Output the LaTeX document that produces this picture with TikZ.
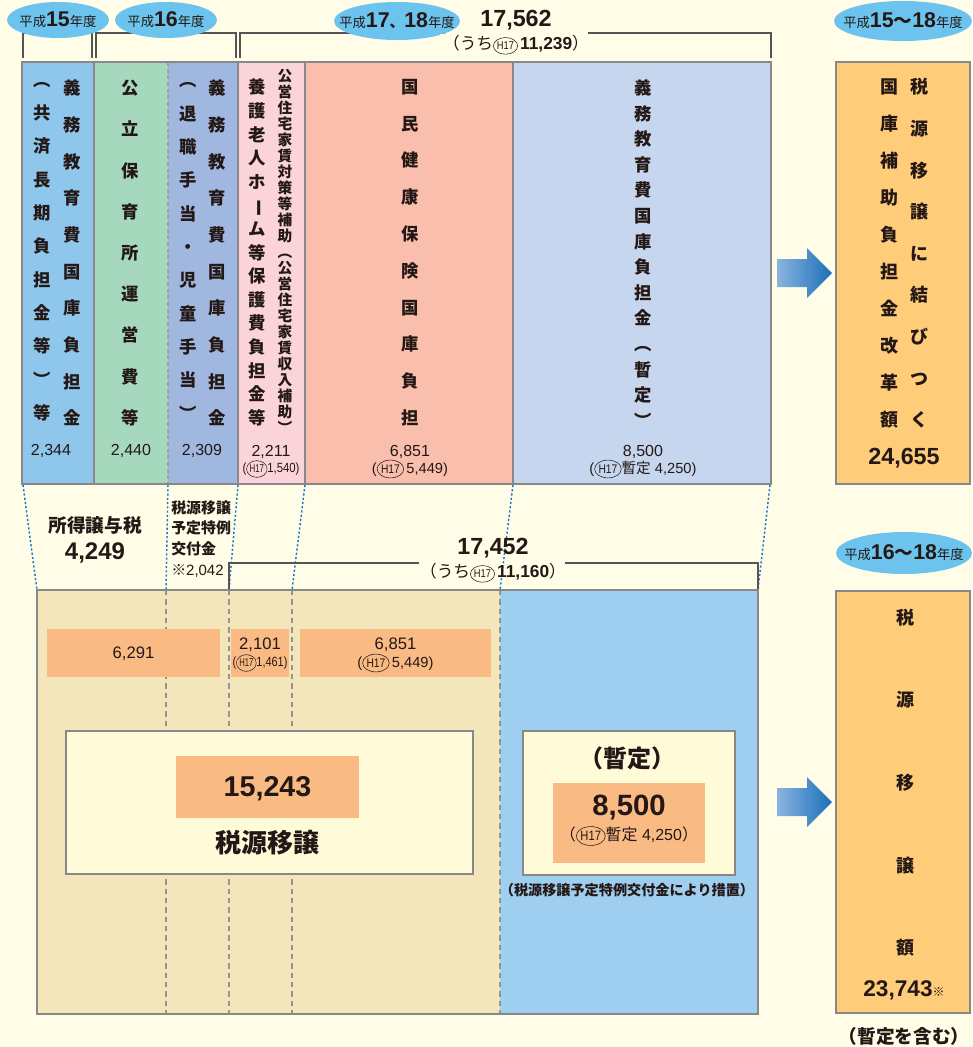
\documentclass[tikz,border=0pt]{standalone}
\usepackage{fontspec}
\setmainfont{Liberation Sans}
\newfontfamily\jp{Noto Sans CJK JP}
\usetikzlibrary{shapes.geometric}
\definecolor{bg}{HTML}{FFFDE8}
\definecolor{tx}{HTML}{231815}
\definecolor{cA}{HTML}{8EC6EC}
\definecolor{cB}{HTML}{A6D8BE}
\definecolor{cC}{HTML}{A0B8E0}
\definecolor{cD}{HTML}{FAD4DA}
\definecolor{cE}{HTML}{F9BEAC}
\definecolor{cF}{HTML}{C6D6EE}
\definecolor{org}{HTML}{FFCC7A}
\definecolor{ell}{HTML}{6CC4EE}
\definecolor{beige}{HTML}{F2E6BA}
\definecolor{lblue}{HTML}{9ECEF0}
\definecolor{obox}{HTML}{F9BA84}
\definecolor{icream}{HTML}{FFFAD8}
\definecolor{bordc}{HTML}{888888}
\definecolor{brkc}{HTML}{555555}
\definecolor{dotc}{HTML}{1E78C8}
\definecolor{arL}{HTML}{8AB4E0}
\definecolor{arR}{HTML}{1A6FB8}
\newcommand\fs[2]{\fontsize{#1}{#2}\selectfont}
\newcommand\hh{\tikz[baseline=(hx.base)]\node[draw=tx,line width=0.4pt,ellipse,inner xsep=0pt,inner ysep=1.5pt](hx){\scalebox{0.7}[0.85]{H17}};}
\newcommand\vbar{\rotatebox[origin=c]{-90}{ー}}
\tikzset{
  txt/.style={text=tx, inner sep=0pt},
  vcol/.style={txt, align=center},
  brk/.style={draw=brkc, line width=1pt},
  sep/.style={draw=bordc, line width=1.2pt},
  dsep/.style={draw=bordc!80, line width=0.8pt, dash pattern=on 3pt off 2pt},
  bord/.style={draw=bordc, line width=2pt},
  dotl/.style={draw=dotc, line width=1.1pt, dash pattern=on 1.6pt off 1.6pt},
  gdash/.style={draw=bordc!90, line width=1.1pt, dash pattern=on 4pt off 3pt},
  ellb/.style={ellipse, fill=ell, draw=none, inner sep=0pt},
  ibox/.style={draw=bordc, line width=1pt, fill=icream},
}
\begin{document}
\begin{tikzpicture}[x=0.75pt,y=-0.75pt]
\fill[bg] (0,0) rectangle (972,1047);
\useasboundingbox (0,0) rectangle (972,1047);

% ---------- top brackets ----------
\draw[brk] (23,58) -- (23,33) -- (92,33) -- (92,58);
\draw[brk] (96,58) -- (96,33) -- (236,33) -- (236,58);
\draw[brk] (240,58) -- (240,33) -- (445,33);
\draw[brk] (588,33) -- (771,33) -- (771,58);

% ---------- ellipses ----------
\node[ellb, minimum width=76.5pt, minimum height=27pt] (e15) at (58,20) {};
\node[txt] (t15) at (e15.center) {{\jp\fs{10}{12}平成}{\bfseries\fs{16}{18}15}{\jp\fs{10}{12}年度}};
\node[ellb, minimum width=76.5pt, minimum height=27pt] (e16) at (166,20) {};
\node[txt] (t16) at (e16.center) {{\jp\fs{10}{12}平成}{\bfseries\fs{16}{18}16}{\jp\fs{10}{12}年度}};
\node[ellb, minimum width=94.5pt, minimum height=28.5pt] (e1718) at (397,21) {};
\node[txt] (t1718) at (e1718.center) {{\jp\fs{10}{12}平成}{\bfseries\fs{16}{18}17}{\jp\bfseries\fs{11}{13}、}{\bfseries\fs{16}{18}18}{\jp\fs{10}{12}年度}};
\node[ellb, minimum width=103.5pt, minimum height=30pt] (e1518) at (903,21) {};
\node[txt] (t1518) at (e1518.center) {{\jp\fs{10}{12}平成}{\bfseries\fs{16}{18}15}{\jp\bfseries\fs{14}{16}〜}{\bfseries\fs{16}{18}18}{\jp\fs{10}{12}年度}};
\node[ellb, minimum width=102pt, minimum height=31.5pt] (e1618) at (904,553) {};
\node[txt] (t1618) at (e1618.center) {{\jp\fs{10}{12}平成}{\bfseries\fs{16}{18}16}{\jp\bfseries\fs{14}{16}〜}{\bfseries\fs{16}{18}18}{\jp\fs{10}{12}年度}};

% ---------- top totals ----------
\node[txt, font=\bfseries\fs{17.5}{20}] (tot1) at (516,20) {17,562};
\node[txt, fill=bg, inner xsep=2pt, inner ysep=1pt] (tot1b) at (516,45) {{\jp\fs{12.5}{14}（うち}\hh\,{\bfseries\fs{13}{15}11,239}{\jp\fs{12.5}{14}）}};

% ---------- top box ----------
\fill[cA] (22,62) rectangle (94,484);
\fill[cB] (94,62) rectangle (168,484);
\fill[cC] (168,62) rectangle (238,484);
\fill[cD] (238,62) rectangle (305,484);
\fill[cE] (305,62) rectangle (513,484);
\fill[cF] (513,62) rectangle (771,484);
\draw[sep] (94,62) -- (94,484);
\draw[dsep] (168,62) -- (168,484);
\draw[sep] (238,62) -- (238,484);
\draw[sep] (305,62) -- (305,484);
\draw[sep] (513,62) -- (513,484);
\draw[bord] (22,62) rectangle (771,484);

% column texts
\node[vcol, font={\jp\bfseries\fs{13}{27.5}}] (c1r) at (72,253) {義\\務\\教\\育\\費\\国\\庫\\負\\担\\金};
\node[vcol, font={\jp\bfseries\fs{13}{25}}] (c1l) at (42,251.5) {︵\\共\\済\\長\\期\\負\\担\\金\\等\\︶\\等};
\node[vcol, font={\jp\bfseries\fs{13}{30.9}}] (c2) at (130,253) {公\\立\\保\\育\\所\\運\\営\\費\\等};
\node[vcol, font={\jp\bfseries\fs{13}{27.5}}] (c3r) at (217,253) {義\\務\\教\\育\\費\\国\\庫\\負\\担\\金};
\node[vcol, font={\jp\bfseries\fs{13}{25}}] (c3l) at (188,251.5) {︵\\退\\職\\手\\当\\・\\児\\童\\手\\当\\︶};
\node[vcol, font={\jp\bfseries\fs{13}{17.7}}] (c4l) at (257,252.5) {養\\護\\老\\人\\ホ\\\vbar\\ム\\等\\保\\護\\費\\負\\担\\金\\等};
\node[vcol, font={\jp\bfseries\fs{11}{12}}] (c4r) at (285,251.5) {公\\営\\住\\宅\\家\\賃\\対\\策\\等\\補\\助\\︵\\公\\営\\住\\宅\\家\\賃\\収\\入\\補\\助\\︶};
\node[vcol, font={\jp\bfseries\fs{13}{27.6}}] (c5) at (410,252.5) {国\\民\\健\\康\\保\\険\\国\\庫\\負\\担};
\node[vcol, font={\jp\bfseries\fs{13}{19.2}}] (c6) at (643,253.5) {義\\務\\教\\育\\費\\国\\庫\\負\\担\\金\\︵\\暫\\定\\︶};

% column numbers
\node[txt, font=\fs{12}{14}] (n1) at (51,451) {2,344};
\node[txt, font=\fs{12}{14}] (n2) at (131,451) {2,440};
\node[txt, font=\fs{12}{14}] (n3) at (202,451) {2,309};
\node[txt, font=\fs{12}{14}] (n4) at (271,452) {2,211};
\node[txt, font=\fs{10}{12}] (n4b) at (271,469) {\scalebox{0.85}[1]{(\hh1,540)}};
\node[txt, font=\fs{12}{14}] (n5) at (410,452) {6,851};
\node[txt, font=\fs{11}{13}] (n5b) at (410,469) {(\hh\,5,449)};
\node[txt, font=\fs{12}{14}] (n6) at (643,452) {8,500};
\node[txt, font=\fs{11}{13}] (n6b) at (643,469) {(\hh{\jp 暫定} 4,250)};

% ---------- right top box ----------
\draw[bord, fill=org] (836,62) rectangle (970,484);
\node[vcol, font={\jp\bfseries\fs{13.5}{31.2}}] (r1r) at (919,253.5) {税\\源\\移\\譲\\に\\結\\び\\つ\\く};
\node[vcol, font={\jp\bfseries\fs{13.5}{27.75}}] (r1l) at (889,253.5) {国\\庫\\補\\助\\負\\担\\金\\改\\革\\額};
\node[txt, font=\bfseries\fs{17.5}{20}] (r1n) at (904,458) {24,655};

% ---------- arrows ----------
\shade[left color=arL, right color=arR] (777,259) -- (807,259) -- (807,248) -- (832,273) -- (807,298) -- (807,287) -- (777,287) -- cycle;
\shade[left color=arL, right color=arR] (777,788) -- (807,788) -- (807,777) -- (832,802) -- (807,827) -- (807,816) -- (777,816) -- cycle;

% ---------- connector coordinates ----------
\coordinate (t0) at (23,485);
\coordinate (t1) at (168,485);
\coordinate (t2) at (238,485);
\coordinate (t3) at (305,485);
\coordinate (t4) at (513,485);
\coordinate (t5) at (770,485);
\coordinate (b0) at (37,590);
\coordinate (b1) at (166,590);
\coordinate (b2) at (229,590);
\coordinate (b3) at (292,590);
\coordinate (b4) at (500,590);
\coordinate (b5) at (758,590);
\draw[dotl] (t0) -- (b0);
\draw[dotl] (t1) -- (b1);
\draw[dotl] (t2) -- (b2);
\draw[dotl] (t3) -- (b3);
\draw[dotl] (t4) -- (b4);
\draw[dotl] (t5) -- (b5);

% ---------- middle labels ----------
\node[txt, font={\jp\bfseries\fs{14}{16}}] (shotoku) at (95,525) {所得譲与税};
\node[txt, font=\bfseries\fs{18}{20}] (shotokun) at (95,553) {4,249};
\node[txt, anchor=north west, align=left, font={\jp\bfseries\fs{11.2}{15.5}}] (tokurei) at (171,500) {税源移譲\\予定特例\\交付金\\{\mdseries\jp ※}{\mdseries\rmfamily 2,042}};

% bottom bracket
\draw[brk] (b2) -- (229,563) -- (419,563);
\draw[brk] (565,563) -- (758,563) -- (b5);
\node[txt, font=\bfseries\fs{17.5}{20}] (tot2) at (493,548) {17,452};
\node[txt] (tot2b) at (493,573) {{\jp\fs{12.5}{14}（うち}\hh\,{\bfseries\fs{13}{15}11,160}{\jp\fs{12.5}{14}）}};

% ---------- bottom box ----------
\fill[beige] (37,590) rectangle (500,1014);
\fill[lblue] (500,590) rectangle (758,1014);
\draw[gdash] (b1) -- (166,1014);
\draw[gdash] (b2) -- (229,1014);
\draw[gdash] (b3) -- (292,1014);
\draw[gdash] (b4) -- (500,1014);
\draw[bord] (37,590) rectangle (758,1014);

\fill[obox] (47,629) rectangle (220,677);
\fill[obox] (231,629) rectangle (289,677);
\fill[obox] (300,629) rectangle (491,677);
\node[txt, font=\fs{12.5}{14}] (o1) at (133.5,654) {6,291};
\node[txt, font=\fs{12.5}{14}] (o2) at (260,645) {2,101};
\node[txt, font=\fs{10}{12}] (o2b) at (260,663) {\scalebox{0.82}[1]{(\hh1,461)}};
\node[txt, font=\fs{12.5}{14}] (o3) at (395.5,645) {6,851};
\node[txt, font=\fs{11}{13}] (o3b) at (395.5,663) {(\hh\,5,449)};

\draw[ibox] (66,731) rectangle (473,874);
\fill[obox] (176,756) rectangle (359,818);
\node[txt, font=\bfseries\fs{21.5}{24}] (big1) at (267.5,789) {15,243};
\node[txt, font={\jp\bfseries\fs{19.5}{22}}] (big1t) at (267.5,843) {税源移譲};

\draw[ibox] (523,731) rectangle (735,875);
\node[txt, font={\jp\bfseries\fs{18}{20}}] (zt) at (627,758) {（暫定）};
\fill[obox] (553,783) rectangle (705,863);
\node[txt, font=\bfseries\fs{22}{24}] (big2) at (629,808) {8,500};
\node[txt, font=\fs{12}{14}] (big2b) at (629,836) {{\jp（}\hh{\jp 暫定} 4,250{\jp）}};
\node[txt, font={\jp\bfseries\fs{10.6}{12}}] (sochi) at (627,890) {（税源移譲予定特例交付金により措置）};

% ---------- right bottom box ----------
\draw[bord, fill=org] (836,591) rectangle (970,1013);
\node[vcol, font={\jp\bfseries\fs{13.5}{62}}] (r2) at (905,782.5) {税\\源\\移\\譲\\額};
\node[txt, font=\bfseries\fs{17}{20}] (r2n) at (904,990) {23,743{\jp\mdseries\fs{9}{10}※}};
\node[txt, font={\jp\bfseries\fs{14}{16}}] (r2c) at (904,1036) {（暫定を含む）};
\end{tikzpicture}
\end{document}
